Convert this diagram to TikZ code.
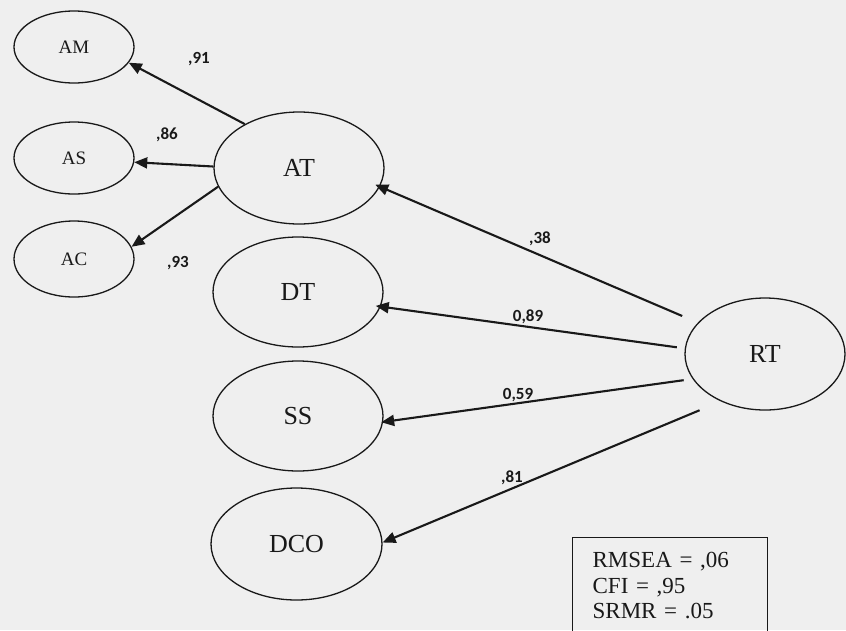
\documentclass[tikz,border=0pt]{standalone}
\usepackage{fontspec}
\setmainfont{Liberation Serif}
\newfontfamily\coeffont{Carlito}
\usetikzlibrary{arrows.meta,shapes.geometric}
\definecolor{paper}{RGB}{239,239,239}
\definecolor{ink}{RGB}{25,25,25}
\begin{document}
\begin{tikzpicture}[x=1pt,y=-1pt,
  latent/.style={ellipse,draw=ink,line width=1.3pt,inner sep=0pt,
    minimum width=170pt,minimum height=112pt,
    font=\fontsize{26}{30}\selectfont,text=ink},
  indicator/.style={ellipse,draw=ink,line width=1.3pt,inner sep=0pt,
    minimum width=120pt,minimum height=72pt,
    font=\fontsize{19}{22}\selectfont,text=ink},
  loading/.style={line width=2.1pt,draw=ink,
    -{Triangle[length=13pt,width=11pt]}},
  coef/.style={font=\coeffont\bfseries\fontsize{17}{20}\selectfont,
    text=ink,inner sep=0pt}
]
\useasboundingbox (0,0) rectangle (846,630);
\fill[paper] (0,0) rectangle (846,630);
\clip (0,0) rectangle (846,630);

% indicators of AT
\node[indicator] (AM) at (74,47) {AM};
\node[indicator] (AS) at (74,158) {AS};
\node[indicator,minimum height=76pt] (AC) at (74,259) {AC};

% latent factors
\node[latent] (AT) at (299,168) {AT};
\node[latent,minimum height=110pt] (DT) at (298,292) {DT};
\node[latent,minimum height=110pt] (SS) at (298,416) {SS};
\node[latent,minimum width=171pt] (DCO) at (296.5,544) {DCO};
\node[latent,minimum width=160pt] (RT) at (765,354) {RT};

% loadings
\draw[loading] (AT.141) -- (AM.-16);
\draw[loading] (AT.179) -- (AS.-4);
\draw[loading] (AT.-167) -- (AC.12);
\draw[loading,shorten <=17pt,shorten >=-5pt] (RT.155) -- (AT.-13);
\draw[loading,shorten <=8pt,shorten >=-5pt] (RT.176) -- (DT.-10);
\draw[loading,shorten <=9pt,shorten >=-2pt] (RT.-161) -- (SS.-4);
\draw[loading,shorten <=23pt] (RT.-133) -- (DCO.1);

% coefficients
\node[coef] (c91) at (199,59) {,91};
\node[coef] (c86) at (167,135) {,86};
\node[coef] (c93) at (178,263) {,93};
\node[coef] (c38) at (540,239) {,38};
\node[coef] (c89) at (528,317) {0,89};
\node[coef] (c59) at (518,395) {0,59};
\node[coef] (c81) at (512,478) {,81};

% fit indices
\node[draw=ink,line width=1.3pt,anchor=north west,inner xsep=20pt,
  inner ysep=15pt,text width=155pt,align=left,
  font=\fontsize{23}{25.5}\selectfont,text=ink] (fitstats) at (572,537)
  {RMSEA = ,06\\CFI = ,95\\SRMR = .05};
\end{tikzpicture}
\end{document}
